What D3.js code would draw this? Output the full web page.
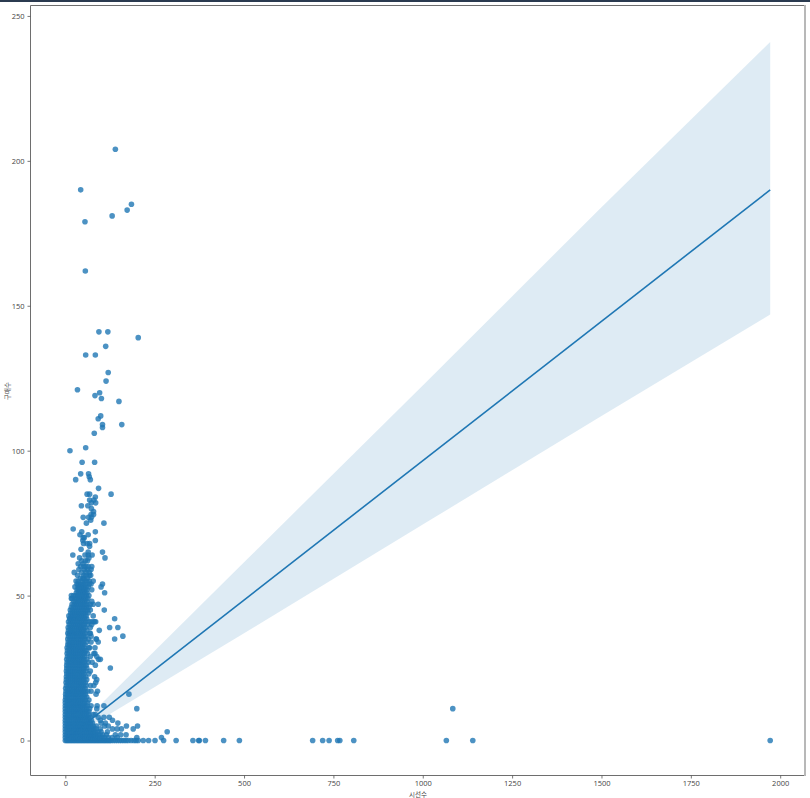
<!DOCTYPE html>
<html><head><meta charset="utf-8">
<script src="https://cdnjs.cloudflare.com/ajax/libs/d3/7.8.5/d3.min.js"></script>
<style>html,body{margin:0;padding:0;background:#fff;overflow:hidden}svg{display:block}
text{font-family:"Open Sans","Noto Sans",sans-serif;fill:#444}</style></head><body>
<script>
const xLabel = "시선수";
const yLabel = "구매수";
const xTicks = [0,250,500,750,1000,1250,1500,1750,2000];
const yTicks = [0,50,100,150,200,250];
const lineX = [0,1972];
const lineY = [0.4,190];
const bandX = [0,83,500,1000,1500,1972];
const bandUpper = [0.9,10.5,61.5,122.5,184,241];
const bandLower = [-0.2,6,37,74.5,112,147];

// isolated points [x, y]
const sparsePoints = [
[140,204],[43,190],[185,185],[173,183],[131,181],[55,179],[56,162],[94,141],[119,141],[204,139],[113,136],[57,133],[84,133],
[120,127],[114,124],[34,121],[96,120],[83,119],[101,118],[150,117],[99,112],[92,111],[104,109],[158,109],[104,108],[81,106],
[13,100],[57,101],[47,96],[82,96],[43,92],[65,92],[67,91],[29,90],[70,90],[93,87],[61,85],[68,85],[128,85],[84,84],[68,83],[80,83],
[73,82],[85,82],[45,81],[63,81],[73,80],[79,79],[72,78],[79,78],[50,77],[65,77],[73,77],[108,75],[59,75],[71,76],[22,73],[46,72],[84,72],
[41,71],[64,71],[50,70],[53,70],[49,69],[84,69],[51,68],[61,68],[68,68],[68,67],[44,66],[64,65],[104,65],[21,64],[55,64],[64,64],[75,64],
[111,63],[62,62],[36,61],[50,61],[43,60],[64,60],[74,60],[53,59],[72,59],[25,58],[67,58],[52,57],[67,57],[71,57],[49,56],[47,55],[67,55],[78,55],
[33,54],[67,54],[104,54],[45,53],[100,53],[38,52],[50,52],[74,52],[110,51],[17,50],[17,49],[78,47],[92,47],[109,45],
[78,43],[138,42],[95,38],[124,39],[147,39],[161,36],[138,35],[86,35],[92,34],[126,25],[85,41],[74,40],[70,45],[72,36],[80,30],[88,29],[93,28],
[82,41],[70,37],[87,35],[68,32],[83,32],[83,30],[98,28],[11,37],[11,33],[13,42],
[75,27],[84,26],[70,24],[82,22],[88,21],[70,19],[80,19],[85,20],[72,17],[86,16],[90,17],[178,16],[200,11],[108,12],[89,12],[88,11],
[72,12],[78,9],[92,8],[123,8],[132,7],[108,8],[100,6],[147,6],[112,6],[171,5],[202,5],[120,5],[190,4],[157,4],[145,4],[132,4],[98,4],[118,3],[285,3],[170,2],
[140,2],[155,2],[269,1],[145,1],[200,1],[1084,11]
];
// y = 0 points on the far right
const zeroRowX = [218,233,251,275,310,357,373,375,392,443,487,692,720,738,762,768,807,1066,1140,1972];
// dense body: [y, [x...]]
const denseRows = [
[0,[0,4,8,12,16,20,24,28,32,36,40,44,48,52,56,60,64,68,72,76,80,84,88,92,96,100,104,108,112,116,120,124,128,134,140,146,152,158,164,170,176,184,192,198,204]],
[1,[0,6,12,18,24,30,36,42,48,54,60,66,72,78,84,90,96,103,110,120,131]],
[2,[0,5,10,15,20,25,30,35,40,45,50,55,60,65,70,75,80,85,91,97,105,115]],
[3,[0,6,12,18,24,30,36,42,48,54,60,66,72,78,84,92,100]],
[4,[0,5,10,15,20,25,30,35,40,45,50,55,60,65,70,75,80,86]],
[5,[0,6,12,18,24,30,36,42,48,54,60,66,72,78,87,110]],
[6,[0,5,10,15,20,25,30,35,40,45,50,55,60,65,70,76]],
[7,[0,6,12,18,24,30,36,42,48,54,60,66,73,98]],
[8,[0,5,10,15,20,25,30,35,40,45,50,55,60,65,70]],
[9,[0,6,12,18,24,30,36,42,48,54,60,66,84]],
[10,[0,5,10,15,20,25,30,35,40,45,50,55,60,66]],
[11,[0,6,12,18,24,30,36,42,48,54,60,68]],
[12,[0,5,10,15,20,25,30,35,40,45,50,55,61]],
[13,[0,6,12,18,24,30,36,42,48,54,62]],
[14,[0,5,10,15,20,25,30,35,40,45,50,56,66]],
[15,[1,6,12,18,24,30,36,42,48,54,60]],
[16,[1,6,11,16,21,26,31,36,41,46,51,56]],
[17,[2,8,14,20,26,32,38,44,50,56,63]],
[18,[1,7,13,19,25,31,37,43,49,55]],
[19,[3,9,15,21,27,33,39,45,51,58]],
[20,[2,8,14,20,26,32,38,44,50,56]],
[21,[3,9,15,21,27,33,39,45,51,60]],
[22,[3,9,15,21,27,33,39,45,51,57]],
[23,[4,10,16,22,28,34,40,46,52,66]],
[24,[3,9,15,21,27,33,39,45,51,57]],
[25,[4,10,16,22,28,34,40,46,52,60]],
[26,[4,10,16,22,28,34,40,46,52,58]],
[27,[5,11,17,23,29,35,41,47,53,64]],
[28,[4,10,16,22,28,34,40,46,52,60]],
[29,[6,12,18,24,30,36,42,48,54,70]],
[30,[5,11,17,23,29,35,41,47,53,62]],
[31,[6,12,18,24,30,36,42,48,54,58]],
[32,[5,11,17,23,29,35,41,47,53,66]],
[33,[7,13,19,25,31,37,43,49,55]],
[34,[8,14,20,26,32,38,44,50,60,72]],
[35,[7,13,19,25,31,37,43,49,55,64]],
[36,[9,15,21,27,33,39,45,51,57]],
[37,[7,13,19,25,31,37,43,49,55,68]],
[38,[9,15,21,27,33,39,45,51,60]],
[39,[8,14,20,26,32,38,44,50,56,70]],
[40,[11,17,23,29,35,41,47,53,62]],
[41,[9,15,21,27,33,39,45,51,57,66,72,78]],
[42,[12,18,24,30,36,42,48,54,60]],
[43,[10,16,22,28,34,40,46,52,58]],
[44,[15,21,27,33,39,45,51,57,64]],
[45,[14,20,26,32,38,44,50,56,62]],
[46,[17,23,29,35,41,47,53,59,66]],
[47,[19,25,31,37,43,49,55,61,70]],
[48,[24,30,36,42,48,54,60,74]],
[49,[19,27,33,39,45,51,57,63]],
[50,[23,29,35,41,47,53,59,66]],
[51,[31,37,43,49,55,61]],
[52,[33,42,46,54,60]],
[53,[27,36,40,52,58,64]],
[54,[38,44,50,56,72]],
[55,[30,36,55,60]],
[56,[42,52,62]],
[57,[34,58]],
[58,[46,58]],
[59,[38,62]],
[60,[52,58]],
[62,[46,56]],
[63,[40,66]]
];

const W = 810, H = 798;
const x = d3.scaleLinear().domain([-97.4,2069.4]).range([30.5,805]);
const y = d3.scaleLinear().domain([-11.9,253.6]).range([775,5.5]);
const svg = d3.select("body").append("svg").attr("width",W).attr("height",H);

svg.append("rect").attr("x",0).attr("y",0).attr("width",W).attr("height",2).attr("fill","#2b3b50");

const bandData = bandX.map((d,i)=>({x:d,u:bandUpper[i],l:bandLower[i]}));
svg.append("path").datum(bandData).attr("fill","#1f77b4").attr("fill-opacity",0.15)
  .attr("d",d3.area().x(d=>x(d.x)).y0(d=>y(d.l)).y1(d=>y(d.u)));
svg.append("path").datum(lineX.map((d,i)=>[d,lineY[i]])).attr("fill","none").attr("stroke","#1f77b4").attr("stroke-width",1.6)
  .attr("d",d3.line().x(d=>x(d[0])).y(d=>y(d[1])));

const pts = sparsePoints.concat(zeroRowX.map(v=>[v,0]));
denseRows.forEach(([yy,xs])=>xs.forEach(v=>pts.push([v,yy])));
svg.append("g").selectAll("circle").data(pts).join("circle")
  .attr("cx",d=>x(d[0])).attr("cy",d=>y(d[1])).attr("r",2.8).attr("fill","#1f77b4").attr("fill-opacity",0.8);

// frame
const fr = svg.append("g").attr("fill","none");
fr.append("path").attr("d",`M30.5,775.5V5.5H804`).attr("stroke","#6e6e6e").attr("stroke-width",1);
fr.append("path").attr("d",`M30.5,775.5H804`).attr("stroke","#6e6e6e").attr("stroke-width",1);
fr.append("path").attr("d",`M805,5V776`).attr("stroke","#b8b8b8").attr("stroke-width",2);

const ax = svg.append("g").attr("transform","translate(0,775.5)").call(d3.axisBottom(x).tickValues(xTicks).tickSize(3).tickPadding(2.5).tickFormat(d3.format("d")));
const ay = svg.append("g").attr("transform","translate(30.5,0)").call(d3.axisLeft(y).tickValues(yTicks).tickSize(3).tickPadding(3).tickFormat(d3.format("d")));
[ax,ay].forEach(a=>{a.select(".domain").remove();a.selectAll("line").attr("stroke","#555").attr("stroke-width",0.8);a.selectAll("text").attr("font-size",7.5).attr("fill","#444");});

svg.append("text").attr("x",418).attr("y",796.5).attr("text-anchor","middle").attr("font-size",6.5)
  .style("font-family",'"Noto Sans CJK KR"').text(xLabel);
svg.append("text").attr("transform","translate(10,391) rotate(-90)").attr("text-anchor","middle").attr("font-size",6.5)
  .style("font-family",'"Noto Sans CJK KR"').text(yLabel);
</script></body></html>
